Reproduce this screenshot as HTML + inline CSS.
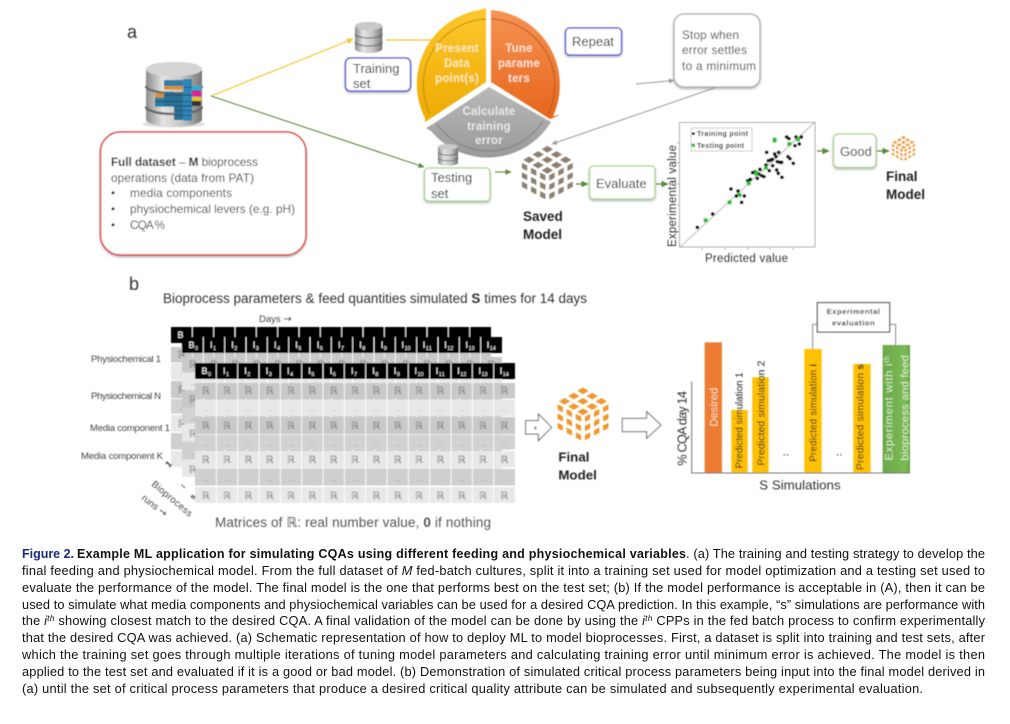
<!DOCTYPE html>
<html><head><meta charset="utf-8"><title>Figure 2</title>
<style>
html,body{margin:0;padding:0;background:#fff;width:1010px;height:724px;overflow:hidden}
svg{display:block;position:absolute;left:0;top:0}
text{font-family:"Liberation Sans","DejaVu Sans",sans-serif}
.c text{font-size:12.8px;fill:#111}
.c text.b{font-size:12.5px}
.ml{font-size:13px;fill:#222}
.cal{font-size:11.8px;fill:#3a3a3a}
.wh{font-size:11.5px;font-weight:bold;text-anchor:middle;letter-spacing:.2px}
.bd{font-weight:bold;font-size:13.5px;fill:#222}
.R{font-family:"DejaVu Sans",sans-serif;font-size:10px;fill:#6f6f6f;text-anchor:middle}
.D{font-family:"DejaVu Sans",sans-serif;font-size:7px;fill:#888;text-anchor:middle}
.H{font-size:9px;fill:#fff}
.S{font-size:5.5px;fill:#fff}
.lb{font-size:9.5px;fill:#444}
.v{font-size:38px;fill:#333}
</style></head><body>
<svg width="1010" height="724" viewBox="0 0 1010 724" xmlns="http://www.w3.org/2000/svg">
<defs>
<filter id="bl" x="-2%" y="-2%" width="104%" height="104%"><feGaussianBlur stdDeviation="0.5"/></filter>
<filter id="sh" x="-10%" y="-10%" width="120%" height="125%"><feDropShadow dx="0" dy="1.5" stdDeviation="1" flood-color="#777" flood-opacity=".55"/></filter>
<marker id="mY" markerWidth="6" markerHeight="6" refX="5" refY="3" orient="auto"><path d="M0,0.5L5.5,3L0,5.500z" fill="#f3c32b"/></marker>
<marker id="mG" markerWidth="6" markerHeight="6" refX="5" refY="3" orient="auto"><path d="M0,0.5L5.5,3L0,5.500z" fill="#5a8a3c"/></marker>
<marker id="mA" markerWidth="6" markerHeight="6" refX="5" refY="3" orient="auto"><path d="M0,0.5L5.5,3L0,5.500z" fill="#999"/></marker>
<linearGradient id="gy" x1="0" y1="0" x2="0" y2="1"><stop offset="0" stop-color="#fdc82e"/><stop offset="1" stop-color="#edaa00"/></linearGradient>
<linearGradient id="go" x1="0" y1="0" x2="0" y2="1"><stop offset="0" stop-color="#f69354"/><stop offset="1" stop-color="#e6651a"/></linearGradient>
<linearGradient id="gg" x1="0" y1="0" x2="0" y2="1"><stop offset="0" stop-color="#b8b8b8"/><stop offset="1" stop-color="#9a9a9a"/></linearGradient>
<linearGradient id="si" x1="0" y1="0" x2="1" y2="0"><stop offset="0" stop-color="#8c8c8c"/><stop offset=".3" stop-color="#e4e4e4"/><stop offset=".65" stop-color="#c4c4c4"/><stop offset="1" stop-color="#777"/></linearGradient>
<linearGradient id="gb" x1="0" y1="0" x2="1" y2="0"><stop offset="0" stop-color="#6aa84a"/><stop offset=".85" stop-color="#7cbb55"/><stop offset="1" stop-color="#5da035"/></linearGradient>
<g id="tT"><polygon points="-17,0 0,-10 17,0 0,10"/></g>
<g id="tL"><polygon points="-8,-12 8,-4 8,12 -8,4"/></g>
<g id="tR"><polygon points="-8,-4 8,-12 8,4 -8,12"/></g>
<g id="cube">
<use href="#tT" x="82" y="15.7"/><use href="#tT" x="109.5" y="31.3"/><use href="#tT" x="137" y="47"/><use href="#tT" x="54.5" y="31.3"/><use href="#tT" x="82" y="47"/><use href="#tT" x="109.5" y="62.7"/><use href="#tT" x="27" y="47"/><use href="#tT" x="54.5" y="62.7"/><use href="#tT" x="82" y="78.3"/>
<use href="#tL" x="13.7" y="68"/><use href="#tL" x="41" y="82.3"/><use href="#tL" x="68.3" y="96.6"/><use href="#tL" x="13.7" y="95.7"/><use href="#tL" x="41" y="110"/><use href="#tL" x="68.3" y="124.3"/><use href="#tL" x="13.7" y="123.4"/><use href="#tL" x="41" y="137.7"/><use href="#tL" x="68.3" y="152"/>
<use href="#tR" x="150.3" y="68"/><use href="#tR" x="123" y="82.3"/><use href="#tR" x="95.7" y="96.6"/><use href="#tR" x="150.3" y="95.7"/><use href="#tR" x="123" y="110"/><use href="#tR" x="95.7" y="124.3"/><use href="#tR" x="150.3" y="123.4"/><use href="#tR" x="123" y="137.7"/><use href="#tR" x="95.7" y="152"/>
</g>
<g id="sdb">
<path d="M0,12 A41,12 0 0 1 82,12 V81 A41,12 0 0 1 0,81z" fill="url(#si)"/>
<ellipse cx="41" cy="12" rx="41" ry="12" fill="#c9c9c9"/>
<path d="M0,36 A41,12 0 0 0 82,36 M0,60 A41,12 0 0 0 82,60" fill="none" stroke="#555" stroke-width="3"/>
</g>
<g id="mx">
<rect x="195" y="363" width="320" height="16" fill="#000"/>
<rect x="195" y="383" width="320" height="15.5" fill="#c9c9c9"/>
<rect x="195" y="399.5" width="320" height="16.5" fill="#e8e8e8"/>
<rect x="195" y="417" width="320" height="17" fill="#c9c9c9"/>
<rect x="195" y="435" width="320" height="14.5" fill="#d2d2d2"/>
<rect x="195" y="451" width="320" height="16.5" fill="#e8e8e8"/>
<rect x="195" y="469" width="320" height="16.5" fill="#cfcfcf"/>
<rect x="195" y="487" width="320" height="16" fill="#e8e8e8"/>
<path d="M216.3,363V503M237.7,363V503M259,363V503M280.3,363V503M301.7,363V503M323,363V503M344.3,363V503M365.7,363V503M387,363V503M408.3,363V503M429.7,363V503M451,363V503M472.3,363V503M493.7,363V503" stroke="#fff" stroke-width=".9"/>
</g>
</defs>

<g filter="url(#bl)">
<!-- panel a -->
<text x="127" y="38" font-size="18" fill="#333">a</text>

<!-- big database -->
<g transform="translate(90,0) scale(.3333)">
<ellipse cx="252" cy="372" rx="95" ry="10" fill="#ddd"/>
<path d="M168,208 A84,22 0 0 1 336,208 V358 A84,22 0 0 1 168,358z" fill="url(#si)"/>
<ellipse cx="252" cy="208" rx="84" ry="21" fill="#d4d4d4"/>
<path d="M168,258 A84,22 0 0 0 336,258 M168,320 A84,22 0 0 0 336,320" fill="none" stroke="#666" stroke-width="7"/>
<rect x="222" y="240" width="58" height="18" fill="#2e7ea8"/><rect x="222" y="258" width="58" height="11" fill="#d9902a"/>
<rect x="280" y="237" width="26" height="125" fill="#2f86b8"/>
<rect x="252" y="280" width="28" height="80" fill="#2a6f94"/>
<rect x="222" y="275" width="30" height="45" fill="#2a6f94"/>
<rect x="195" y="280" width="27" height="13" fill="#d9902a"/><rect x="195" y="293" width="27" height="27" fill="#2a7ba3"/>
<rect x="306" y="258" width="28" height="12" fill="#22b4d6"/><rect x="306" y="272" width="28" height="17" fill="#d8249a"/><rect x="306" y="291" width="28" height="12" fill="#e7c323"/><rect x="306" y="303" width="26" height="15" fill="#333"/>
<path d="M195,305H306M222,285H306M252,318H306M252,332H306M252,346H306M280,262H306" stroke="#123f58" stroke-width="2"/>
</g>

<!-- connectors -->
<line x1="211" y1="96" x2="353" y2="39" stroke="#f3c32b" stroke-width="1.2" marker-end="url(#mY)"/>
<line x1="211" y1="96" x2="424" y2="167" stroke="#5a8a3c" stroke-width="1.1" marker-end="url(#mG)"/>
<line x1="386" y1="40" x2="440" y2="40" stroke="#f3c32b" stroke-width="1.2"/>

<!-- full dataset box -->
<rect x="100.5" y="132" width="205.5" height="123" rx="20" fill="#fff" stroke="#e2383c" stroke-width="1.5" filter="url(#sh)"/>
<text x="111" y="166" class="cal" textLength="147"><tspan font-weight="bold" fill="#222">Full dataset</tspan> – <tspan font-weight="bold" fill="#222">M</tspan> bioprocess</text>
<text x="111" y="182" class="cal" textLength="143">operations (data from PAT)</text>
<text x="111" y="197" class="cal">•</text><text x="130" y="197" class="cal" textLength="102">media components</text>
<text x="111" y="213" class="cal">•</text><text x="130" y="213" class="cal" textLength="165">physiochemical levers (e.g. pH)</text>
<text x="111" y="229" class="cal">•</text><text x="130" y="229" class="cal" textLength="35">CQA %</text>

<!-- training -->
<use href="#sdb" transform="translate(355,22) scale(.3333)"/>
<rect x="345.5" y="58" width="65" height="33" rx="5" fill="#fff" stroke="#3c46d2" stroke-width="1.3" filter="url(#sh)"/>
<text x="353" y="73" class="ml">Training</text><text x="353" y="88" class="ml">set</text>

<!-- cycle -->
<path d="M486,82 V8 L479,10 A75,75 0 0 0 425,118 L425,122z" fill="url(#gy)"/>
<path d="M491,82 V10 A75,75 0 0 1 553,116 L560,115 L550,119z" fill="url(#go)"/>
<path d="M489,87 L551,122 A74,74 0 0 1 431,131 L426,128 L433,124z" fill="url(#gg)"/>
<path d="M486,19 A66,66 0 0 0 430,114" fill="none" stroke="#c29000" stroke-width="1"/>
<path d="M491,19 A66,66 0 0 1 548,114" fill="none" stroke="#b5581d" stroke-width="1"/>
<path d="M543,121 A64,64 0 0 1 436,123" fill="none" stroke="#7f7f7f" stroke-width="1"/>
<text x="457" y="52" class="wh" fill="#fbe9b4">Present</text>
<text x="457" y="67" class="wh" fill="#fbe9b4">Data</text>
<text x="457" y="82" class="wh" fill="#fbe9b4">point(s)</text>
<text x="519" y="52" class="wh" fill="#fde0cc">Tune</text>
<text x="519" y="67" class="wh" fill="#fde0cc">parame</text>
<text x="519" y="82" class="wh" fill="#fde0cc">ters</text>
<text x="489" y="115" class="wh" fill="#e8e8e8">Calculate</text>
<text x="489" y="130" class="wh" fill="#e8e8e8">training</text>
<text x="489" y="144" class="wh" fill="#e8e8e8">error</text>

<rect x="565.5" y="28" width="56" height="27" rx="4" fill="#fff" stroke="#3c46d2" stroke-width="1.3" filter="url(#sh)"/>
<text x="572" y="46" class="ml">Repeat</text>

<!-- testing -->
<use href="#sdb" transform="translate(438,144) scale(.244,.233)"/>
<rect x="424.5" y="168" width="65.5" height="33" rx="4" fill="#fff" stroke="#a9d18e" stroke-width="1.3" filter="url(#sh)"/>
<text x="431" y="182" class="ml">Testing</text><text x="431" y="198" class="ml">set</text>
<line x1="495" y1="172" x2="511" y2="172" stroke="#5a8a3c" stroke-width="1.1" marker-end="url(#mG)"/>

<!-- saved model -->
<use href="#cube" transform="translate(520,144) scale(.3333,.337)" fill="#8d8070"/>
<text x="523" y="221" class="bd">Saved</text><text x="523" y="239" class="bd">Model</text>
<line x1="576" y1="184" x2="588" y2="184" stroke="#5a8a3c" stroke-width="1.3" marker-end="url(#mG)"/>
<rect x="589.5" y="166" width="65.5" height="33" rx="4" fill="#fff" stroke="#a9d18e" stroke-width="1.3" filter="url(#sh)"/>
<text x="596" y="188" class="ml">Evaluate</text>
<line x1="656" y1="184" x2="668" y2="184" stroke="#5a8a3c" stroke-width="1.3" marker-end="url(#mG)"/>

<!-- stop box -->
<line x1="636" y1="84" x2="674" y2="80.5" stroke="#999" stroke-width="1" marker-end="url(#mA)"/>
<line x1="717" y1="87" x2="552" y2="144" stroke="#999" stroke-width="1" marker-end="url(#mA)"/>
<rect x="674" y="14" width="86" height="73" rx="10" fill="#fff" stroke="#a8a8a8" stroke-width="1.3" filter="url(#sh)"/>
<text x="682" y="39" class="cal" textLength="57">Stop when</text>
<text x="682" y="54" class="cal" textLength="65">error settles</text>
<text x="682" y="70" class="cal" textLength="74">to a minimum</text>

<!-- scatter -->
<rect x="679.5" y="122.5" width="135.5" height="124.5" fill="#fff" stroke="#aaa" stroke-width="1"/>
<line x1="680" y1="247" x2="815" y2="122" stroke="#999" stroke-width=".8"/>
<path d="M702,247v3M725,247v3M748,247v3M770,247v3M793,247v3M679,226h-2M679,205h-2M679,184h-2M679,163h-2M679,143h-2" stroke="#aaa" stroke-width=".8"/>
<rect x="691" y="128" width="61" height="23" fill="#fff" stroke="#ccc" stroke-width="1"/>
<g transform="translate(640,0) scale(.3333)" fill="#0a0a0a">
<circle cx="172" cy="682" r="5.5"/><circle cx="218" cy="642" r="5.5"/><circle cx="273" cy="567" r="5.5"/><circle cx="294" cy="573" r="5.5"/><circle cx="289" cy="588" r="5.5"/><circle cx="313" cy="588" r="5.5"/><circle cx="305" cy="607" r="5.5"/><circle cx="323" cy="542" r="5.5"/><circle cx="331" cy="538" r="5.5"/><circle cx="338" cy="518" r="5.5"/><circle cx="345" cy="515" r="5.5"/><circle cx="352" cy="535" r="5.5"/><circle cx="360" cy="508" r="5.5"/><circle cx="356" cy="522" r="5.5"/><circle cx="365" cy="527" r="5.5"/><circle cx="372" cy="530" r="5.5"/><circle cx="378" cy="495" r="5.5"/><circle cx="380" cy="457" r="5.5"/><circle cx="385" cy="482" r="5.5"/><circle cx="392" cy="480" r="5.5"/><circle cx="397" cy="478" r="5.5"/><circle cx="404" cy="462" r="5.5"/><circle cx="416" cy="457" r="5.5"/><circle cx="412" cy="485" r="5.5"/><circle cx="420" cy="487" r="5.5"/><circle cx="425" cy="487" r="5.5"/><circle cx="398" cy="497" r="5.5"/><circle cx="388" cy="512" r="5.5"/><circle cx="410" cy="510" r="5.5"/><circle cx="415" cy="520" r="5.5"/><circle cx="426" cy="532" r="5.5"/><circle cx="444" cy="470" r="5.5"/><circle cx="450" cy="476" r="5.5"/><circle cx="460" cy="490" r="5.5"/><circle cx="440" cy="411" r="5.5"/><circle cx="447" cy="416" r="5.5"/><circle cx="468" cy="411" r="5.5"/><circle cx="484" cy="411" r="5.5"/><circle cx="465" cy="437" r="5.5"/><circle cx="478" cy="432" r="5.5"/><circle cx="408" cy="470" r="5.5"/>
<circle cx="160" cy="401" r="4.5"/>
<g fill="#22c02a"><rect x="191" y="655" width="12" height="12"/><rect x="263" y="601" width="12" height="12"/><rect x="293" y="579" width="12" height="12"/><rect x="320" y="544" width="12" height="12"/><rect x="343" y="513" width="12" height="14"/><rect x="372" y="497" width="12" height="12"/><rect x="398" y="413" width="12" height="15"/><rect x="442" y="426" width="12" height="12"/><rect x="468" y="412" width="12" height="12"/><rect x="155" y="431" width="10" height="10"/></g>
</g>
<text x="697" y="136" font-size="7" font-weight="bold" fill="#222" textLength="51">Training point</text>
<text x="697" y="148" font-size="7" font-weight="bold" fill="#222" textLength="47">Testing point</text>
<text transform="translate(676,247) rotate(-90)" font-size="11.5" fill="#333" textLength="102">Experimental value</text>
<text x="705" y="262" font-size="11.5" fill="#333" textLength="83">Predicted value</text>

<!-- good -->
<line x1="817" y1="151" x2="829" y2="151" stroke="#5a8a3c" stroke-width="1.3" marker-end="url(#mG)"/>
<rect x="833.5" y="134" width="42.5" height="33.5" rx="5" fill="#fff" stroke="#a9d18e" stroke-width="1.3" filter="url(#sh)"/>
<text x="840" y="156" class="ml">Good</text>
<line x1="877" y1="151" x2="889" y2="151" stroke="#5a8a3c" stroke-width="1.3" marker-end="url(#mG)"/>
<use href="#cube" transform="translate(891,135) scale(.152,.157)" fill="#f09a3e"/>
<text x="886" y="181" class="bd">Final</text><text x="886" y="199" class="bd">Model</text>

<!-- panel b -->
<text x="129" y="290" font-size="18" fill="#333">b</text>
<text x="163" y="303" font-size="13.5" fill="#333" textLength="424">Bioprocess parameters &amp; feed quantities simulated <tspan font-weight="bold">S</tspan> times for 14 days</text>
<text x="259" y="322" class="lb">Days <tspan style="font-family:'DejaVu Sans',sans-serif" font-size="10">→</tspan></text>
<text x="91" y="362" class="lb" textLength="70">Physiochemical 1</text>
<text x="91" y="399" class="lb" textLength="70">Physiochemical N</text>
<text x="90" y="431" class="lb" textLength="80">Media component 1</text>
<text x="81" y="459" class="lb" textLength="82">Media component K</text>

<!-- matrices -->
<use href="#mx" transform="translate(-24,-36)"/>
<g transform="translate(-24,-36)"><text x="201.5" y="374" class="H">B</text>
<text y="394" class="R" x="205.7">ℝ</text><text y="429" class="R" x="205.7">ℝ</text><text y="463" class="R" x="205.7">ℝ</text><text y="411" class="D" x="205.7">‥</text><text y="446" class="D" x="205.7">‥</text></g>
<use href="#mx" transform="translate(-13,-26)"/>
<g transform="translate(-13,-26)">
<text y="374" class="H" x="201.5 223 244.3 265.7 287 308.3 329.7 351 372.3 393.7 414.5 435.8 457.2 478.5 499.8">BIIIIIIIIIIIIII</text>
<text y="376" class="S" x="208 226 247.3 268.7 290 311.3 332.7 354 375.3 396.7 417.5 420.5 438.8 441.8 460.2 463.2 481.5 484.5 502.8 505.8">01234567891011121314</text>
<text y="394" class="R" x="205.7 227 248.3 269.7 291 312.3 333.7 355 376.3 397.7 419 440.3 461.7 483 504.3">ℝℝℝℝℝℝℝℝℝℝℝℝℝℝℝ</text>
<text y="429" class="R" x="205.7">ℝ</text><text y="463" class="R" x="205.7">ℝ</text><text y="499" class="R" x="205.7">ℝ</text><text y="411" class="D" x="205.7">‥</text><text y="446" class="D" x="205.7">‥</text><text y="481" class="D" x="205.7">‥</text></g>
<use href="#mx"/>
<text y="374" class="H" x="201.5 223 244.3 265.7 287 308.3 329.7 351 372.3 393.7 414.5 435.8 457.2 478.5 499.8">BIIIIIIIIIIIIII</text>
<text y="376" class="S" x="208 226 247.3 268.7 290 311.3 332.7 354 375.3 396.7 417.5 420.5 438.8 441.8 460.2 463.2 481.5 484.5 502.8 505.8">01234567891011121314</text>
<text y="394" class="R" x="205.7 227 248.3 269.7 291 312.3 333.7 355 376.3 397.7 419 440.3 461.7 483 504.3">ℝℝℝℝℝℝℝℝℝℝℝℝℝℝℝ</text>
<text y="411" class="D" x="205.7 227 248.3 269.7 291 312.3 333.7 355 376.3 397.7 419 440.3 461.7 483 504.3">‥‥‥‥‥‥‥‥‥‥‥‥‥‥‥</text>
<text y="429" class="R" x="205.7 227 248.3 269.7 291 312.3 333.7 355 376.3 397.7 419 440.3 461.7 483 504.3">ℝℝℝℝℝℝℝℝℝℝℝℝℝℝℝ</text>
<text y="446" class="D" x="205.7 227 248.3 269.7 291 312.3 333.7 355 376.3 397.7 419 440.3 461.7 483 504.3">‥‥‥‥‥‥‥‥‥‥‥‥‥‥‥</text>
<text y="463" class="R" x="205.7 227 248.3 269.7 291 312.3 333.7 355 376.3 397.7 419 440.3 461.7 483 504.3">ℝℝℝℝℝℝℝℝℝℝℝℝℝℝℝ</text>
<text y="481" class="D" x="205.7 227 248.3 269.7 291 312.3 333.7 355 376.3 397.7 419 440.3 461.7 483 504.3">‥‥‥‥‥‥‥‥‥‥‥‥‥‥‥</text>
<text y="499" class="R" x="205.7 227 248.3 269.7 291 312.3 333.7 355 376.3 397.7 419 440.3 461.7 483 504.3">ℝℝℝℝℝℝℝℝℝℝℝℝℝℝℝ</text>

<text transform="translate(169,468) rotate(-45)" font-size="9" font-weight="bold" fill="#333">1</text>
<text transform="translate(181,485) rotate(45)" font-size="9" font-weight="bold" fill="#333">..</text>
<text transform="translate(193,500) rotate(-45)" font-size="8" font-weight="bold" fill="#333">s</text>
<text transform="translate(151,485) rotate(40)" font-size="9.5" fill="#444" textLength="50">Bioprocess</text>
<text transform="translate(141,499) rotate(38)" font-size="9.5" fill="#444">runs <tspan style="font-family:'DejaVu Sans',sans-serif" font-size="10">→</tspan></text>
<text x="215" y="527" font-size="13.5" fill="#555" textLength="276">Matrices of ℝ: real number value, <tspan font-weight="bold">0</tspan> if nothing</text>

<!-- right of panel b, zoom coords -->
<g transform="translate(520,290) scale(.3333)">
<polygon points="17,392 55,392 55,372 95,412 55,452 55,432 17,432" fill="#fff" stroke="#666" stroke-width="3"/>
<text x="46" y="418" font-size="16" font-weight="bold" fill="#333" text-anchor="middle">s</text>
<use href="#cube" transform="translate(107,287)" fill="#f0962e"/>
<text x="115" y="515" font-size="40" font-weight="bold" fill="#222">Final</text>
<text x="115" y="568" font-size="40" font-weight="bold" fill="#222">Model</text>
<polygon points="307,385 380,385 380,365 423,405 380,445 380,425 307,425" fill="#fff" stroke="#666" stroke-width="3"/>
<text transform="translate(500,527) rotate(-90)" class="v" textLength="224">% CQA day 14</text>
<rect x="554" y="157" width="52" height="392" fill="#ed7d31"/>
<rect x="634" y="360" width="49" height="189" fill="#ffc000"/>
<rect x="697" y="262" width="49" height="287" fill="#ffc000"/>
<rect x="853" y="177" width="52" height="372" fill="#ffc000"/>
<rect x="1000" y="222" width="52" height="327" fill="#ffc000"/>
<rect x="1088" y="165" width="82" height="384" fill="url(#gb)"/>
<path d="M515,275V549H1170" fill="none" stroke="#777" stroke-width="3"/>
<text transform="translate(592,410) rotate(-90)" font-size="34" fill="#f8d9c0" textLength="117">Desired</text>
<text transform="translate(668,535) rotate(-90)" font-size="29" fill="#222" textLength="288">Predicted simulation 1</text>
<text transform="translate(733,527) rotate(-90)" font-size="31" fill="#222" textLength="315">Predicted simulation 2</text>
<text transform="translate(889,515) rotate(-90)" font-size="29" fill="#222" textLength="293">Predicted simulation <tspan font-weight="bold">i</tspan></text>
<text transform="translate(1030,540) rotate(-90)" font-size="31" fill="#222" textLength="318">Predicted simulation <tspan font-weight="bold">s</tspan></text>
<text transform="translate(1117,512) rotate(-90)" font-size="34" fill="#d8ecc8" textLength="314">Experiment with i<tspan font-size="22" dy="-10">th</tspan></text>
<text transform="translate(1165,512) rotate(-90)" font-size="34" fill="#d8ecc8" textLength="317">bioprocess and feed</text>
<text x="798" y="497" font-size="36" fill="#333" text-anchor="middle">..</text>
<text x="958" y="497" font-size="36" fill="#333" text-anchor="middle">..</text>
<path d="M878,177V103H892M1109,103H1127V165" fill="none" stroke="#888" stroke-width="3"/>
<rect x="892" y="38" width="217" height="88" fill="#fff" stroke="#222" stroke-width="3"/>
<text x="1000" y="72" font-size="23" font-weight="bold" fill="#333" text-anchor="middle" textLength="160">Experimental</text>
<text x="1000" y="107" font-size="23" font-weight="bold" fill="#333" text-anchor="middle" textLength="128">evaluation</text>
<text x="718" y="598" font-size="40" fill="#333" textLength="244">S Simulations</text>
</g>
</g>

<!-- caption -->
<g class="c">
<text x="22" y="558" class="b" font-weight="bold" style="fill:#1b2a7c" textLength="52">Figure 2.</text>
<text x="77" y="558" class="b" font-weight="bold" textLength="609">Example ML application for simulating CQAs using different feeding and physiochemical variables</text>
<text x="686" y="558" textLength="299">. (a) The training and testing strategy to develop the</text>
<text x="22" y="575" textLength="963">final feeding and physiochemical model. From the full dataset of <tspan font-style="italic">M</tspan> fed-batch cultures, split it into a training set used for model optimization and a testing set used to</text>
<text x="22" y="592" textLength="963">evaluate the performance of the model. The final model is the one that performs best on the test set; (b) If the model performance is acceptable in (A), then it can be</text>
<text x="22" y="609" textLength="963">used to simulate what media components and physiochemical variables can be used for a desired CQA prediction. In this example, “s” simulations are performance with</text>
<text x="22" y="625" textLength="963">the <tspan font-style="italic">i</tspan><tspan font-style="italic" font-size="8.5" dy="-4">th</tspan><tspan dy="4"> showing closest match to the desired CQA. A final validation of the model can be done by using the </tspan><tspan font-style="italic">i</tspan><tspan font-style="italic" font-size="8.5" dy="-4">th</tspan><tspan dy="4"> CPPs in the fed batch process to confirm experimentally</tspan></text>
<text x="22" y="642" textLength="963">that the desired CQA was achieved. (a) Schematic representation of how to deploy ML to model bioprocesses. First, a dataset is split into training and test sets, after</text>
<text x="22" y="659" textLength="963">which the training set goes through multiple iterations of tuning model parameters and calculating training error until minimum error is achieved. The model is then</text>
<text x="22" y="676" textLength="963">applied to the test set and evaluated if it is a good or bad model. (b) Demonstration of simulated critical process parameters being input into the final model derived in</text>
<text x="22" y="693" textLength="901">(a) until the set of critical process parameters that produce a desired critical quality attribute can be simulated and subsequently experimental evaluation.</text>
</g>
</svg>
</body></html>
